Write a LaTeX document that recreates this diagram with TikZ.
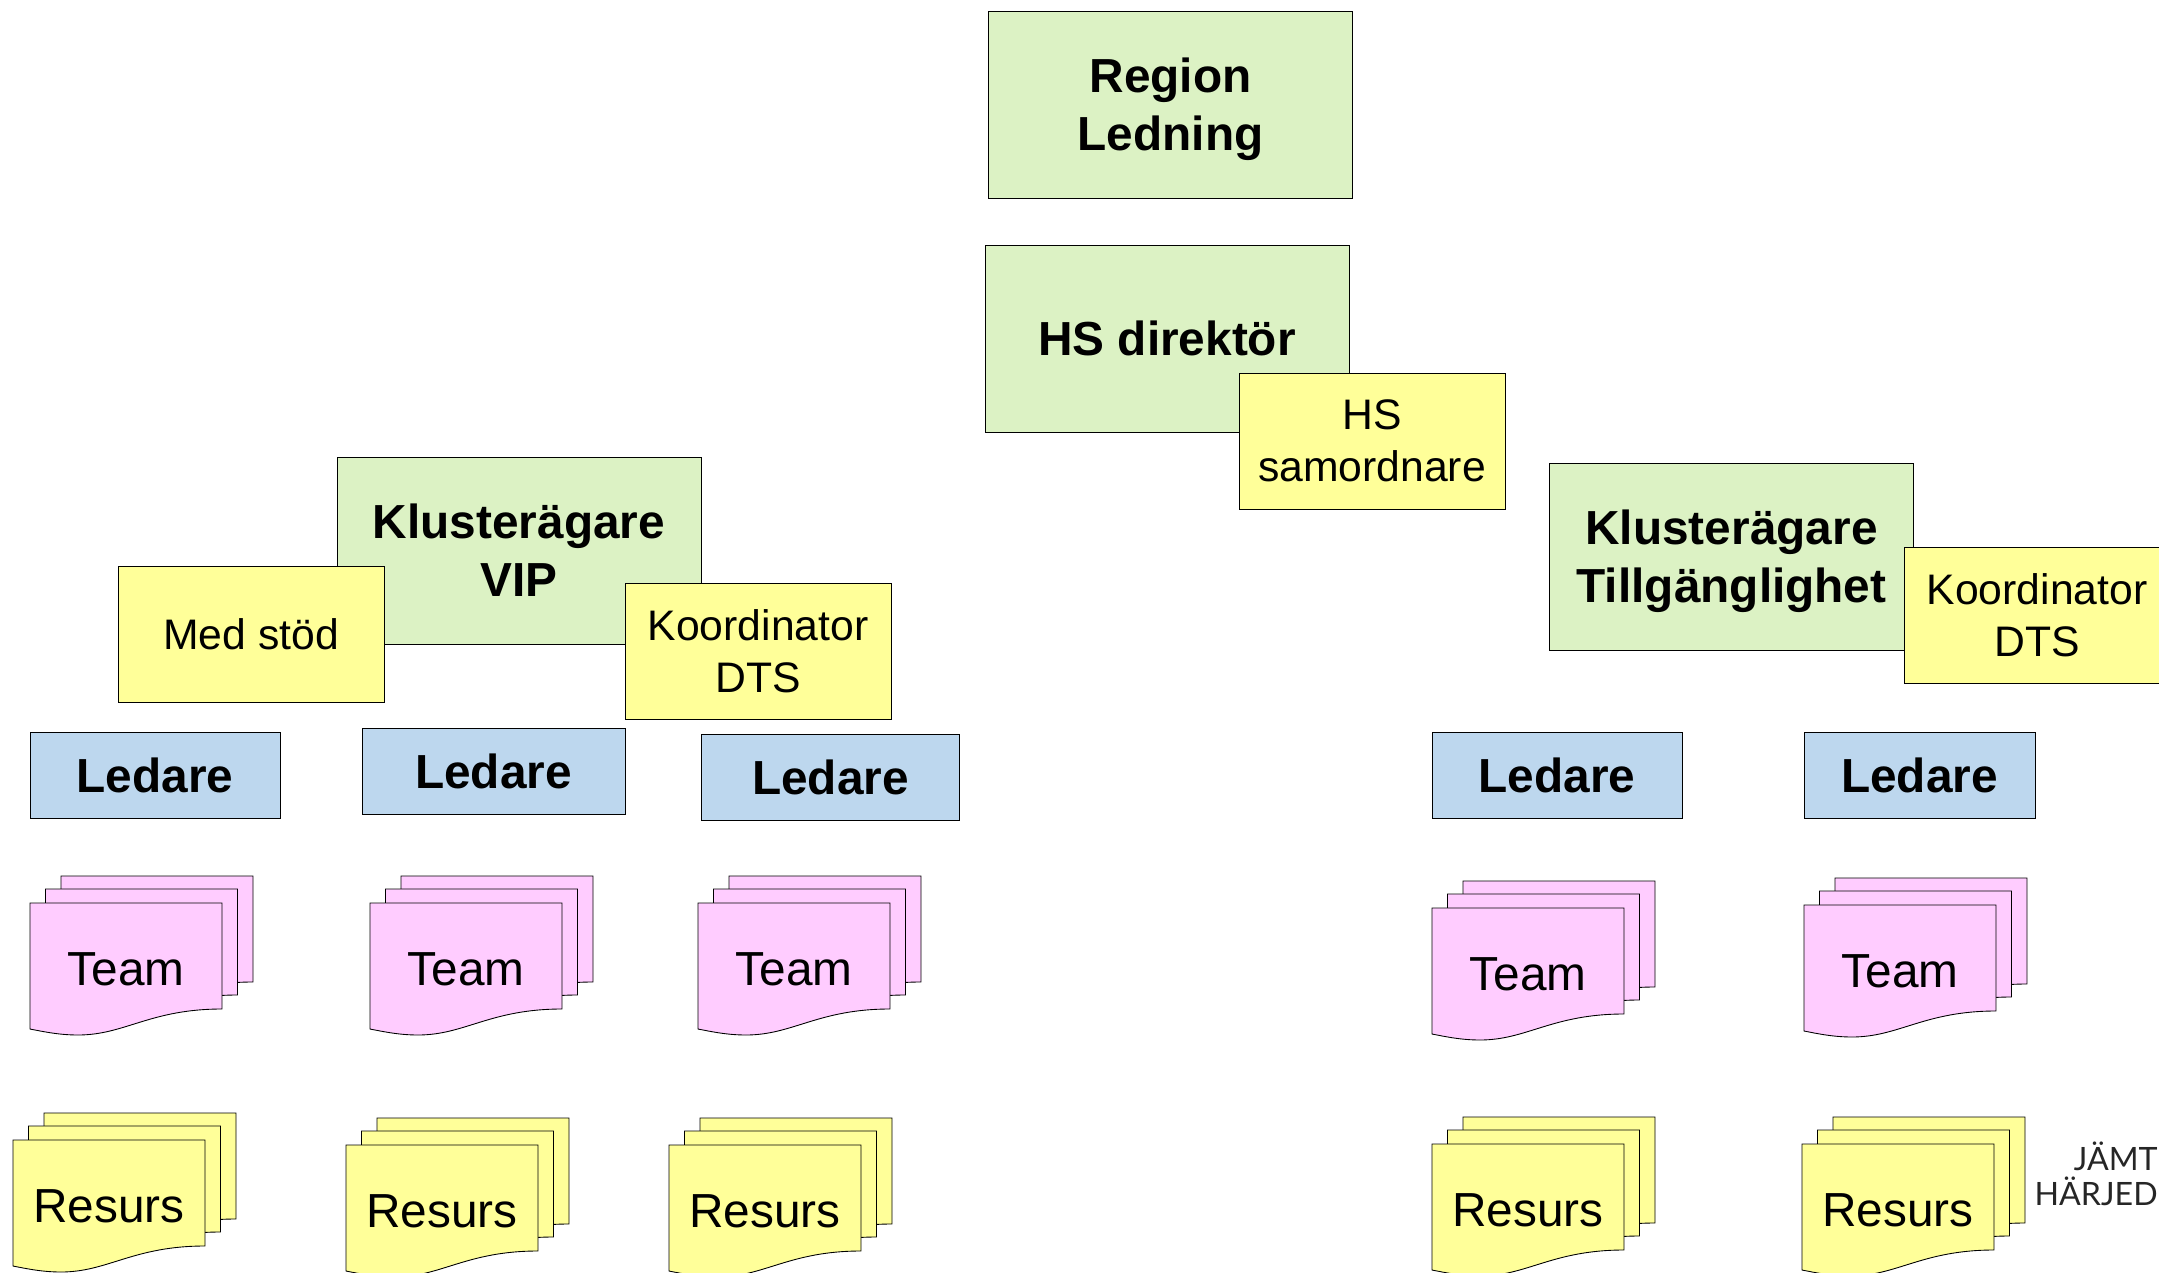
\documentclass[tikz,border=0pt]{standalone}
\usepackage{fontspec}
\setmainfont{Liberation Sans}
\newfontfamily\logofont{Lato}
\definecolor{boxgreen}{HTML}{DCF2C4}
\definecolor{boxyellow}{HTML}{FFFF99}
\definecolor{boxblue}{HTML}{BDD7EE}
\definecolor{boxpink}{HTML}{FFCCFF}
\tikzset{
  headbox/.style={rectangle, draw, line width=0.5pt, fill=boxgreen, minimum width=7.28cm, minimum height=3.74cm, align=center, inner sep=0pt, text depth=-2pt, font=\fontsize{27.2}{33}\selectfont\bfseries},
  helpbox/.style={rectangle, draw, line width=0.5pt, fill=boxyellow, minimum width=5.32cm, minimum height=2.72cm, align=center, inner sep=0pt, text depth=-2pt, font=\fontsize{24.3}{29.6}\selectfont},
  leadbox/.style={rectangle, draw, line width=0.5pt, fill=boxblue, minimum height=1.72cm, inner sep=0pt, text depth=-1.5pt, font=\fontsize{27.2}{33}\selectfont\bfseries},
  sheet/.style={draw, line width=0.5pt},
  pilelabel/.style={inner sep=0pt, font=\fontsize{27.2}{33}\selectfont},
  logotext/.style={anchor=east, inner sep=0pt, text=black!85, font=\logofont\fontsize{18.3}{19}\selectfont},
}
% three stacked sheets with a wavy lower edge: name, x, y, colour, text
\newcommand{\sheetpile}[5]{
  \foreach \ox/\oy in {31/27,15.5/14,0/0}
    \draw[sheet, fill=#4, shift={(#2+\ox,#3-\oy)}] (0,0) -- (192,0) -- (192,106)
      .. controls (120,106) and (95,132) .. (48,132)
      .. controls (30,132) and (15,129) .. (0,126) -- cycle;
  \node[pilelabel] (#1) at (#2+96,#3+66) {#5};
}

\begin{document}
\begin{tikzpicture}[x=0.02cm,y=-0.02cm]
  \clip (0,0) rectangle (2159,1273);

  % top of the organisation
  \node[headbox] (region) at (1170.5,104.5) {Region\\Ledning};
  \node[headbox] (direktor) at (1167,338.5) {HS direktör};
  \node[helpbox] (samordnare) at (1372,441) {HS\\samordnare};

  % left cluster
  \node[headbox] (vip) at (519,550.5) {Klusterägare\\VIP};
  \node[helpbox] (medstod) at (251,634) {Med stöd};
  \node[helpbox] (koordvip) at (758,651) {Koordinator\\DTS};

  % right cluster
  \node[headbox] (tillganglig) at (1731.5,556.5) {Klusterägare\\Tillgänglighet};
  \node[helpbox] (koordtill) at (2037,615) {Koordinator\\DTS};

  % leaders
  \node[leadbox, minimum width=5cm] (ledarea) at (155,775) {Ledare};
  \node[leadbox, minimum width=5.26cm] (ledareb) at (493.5,771) {Ledare};
  \node[leadbox, minimum width=5.16cm] (ledarec) at (830.5,777.5) {Ledare};
  \node[leadbox, minimum width=5cm] (ledared) at (1557,775) {Ledare};
  \node[leadbox, minimum width=4.62cm] (ledaree) at (1919.5,775) {Ledare};

  % teams
  \sheetpile{teama}{30}{903}{boxpink}{Team}
  \sheetpile{teamb}{370}{903}{boxpink}{Team}
  \sheetpile{teamc}{698}{903}{boxpink}{Team}
  \sheetpile{teamd}{1432}{908}{boxpink}{Team}
  \sheetpile{teame}{1804}{905}{boxpink}{Team}

  % resources
  \sheetpile{resursa}{13}{1140}{boxyellow}{Resurs}
  \sheetpile{resursb}{346}{1145}{boxyellow}{Resurs}
  \sheetpile{resursc}{669}{1145}{boxyellow}{Resurs}
  \sheetpile{resursd}{1432}{1144}{boxyellow}{Resurs}
  \sheetpile{resurse}{1802}{1144}{boxyellow}{Resurs}

  % logo at the edge
  \node[logotext] (logoa) at (2158,1156) {JÄMT};
  \node[logotext] (logob) at (2158,1191) {HÄRJED};
\end{tikzpicture}
\end{document}
